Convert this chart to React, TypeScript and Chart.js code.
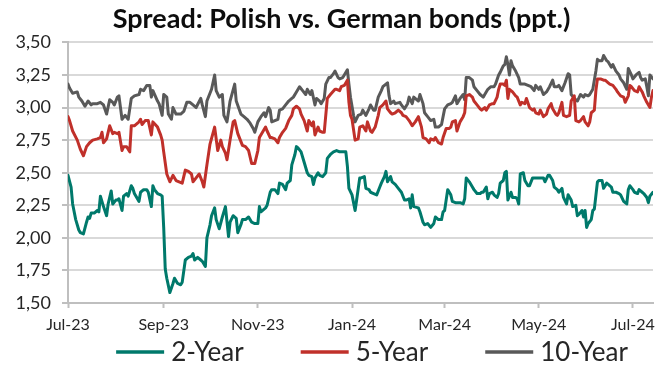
import React, { useEffect, useRef } from "react";
import { Chart, registerables } from "chart.js";

Chart.register(...registerables);

// ---- data (x = days since 2023-07-01) ----
const seriesLabels = ["2-Year", "5-Year", "10-Year"];
const xTickDays = [0, 62, 123, 184, 244, 305, 366];
const xTickLabels = ["Jul-23", "Sep-23", "Nov-23", "Jan-24", "Mar-24", "May-24", "Jul-24"];

const days2 = [0,2,3,5,7,8,10,12,13,14,15,17,19,20,21,23,25,26,28,29,31,32,33,35,36,38,39,41,42,43,46,47,49,51,52,54,55,56,58,60,61,62,63,64,66,68,69,71,73,74,76,78,80,81,82,84,86,87,89,90,92,93,95,96,98,100,102,104,105,107,109,110,112,113,115,117,119,121,123,124,125,128,129,131,132,134,136,137,139,141,142,144,145,147,148,149,151,153,155,156,158,159,160,162,163,165,167,168,170,172,174,176,178,180,181,182,184,186,187,189,190,192,193,195,196,198,200,202,203,205,206,207,209,210,212,214,216,218,219,221,222,223,224,227,228,230,231,233,235,237,238,240,242,243,244,246,248,249,251,252,254,256,257,258,260,262,263,265,267,268,269,271,272,273,275,276,278,279,280,282,283,284,285,287,288,290,291,292,293,295,296,298,299,301,303,304,306,308,309,311,312,314,315,317,318,320,321,323,324,326,327,329,330,331,333,334,335,336,337,339,340,341,343,344,346,347,349,350,352,353,355,357,358,360,362,363,364,366,367,369,370,372,373,375,376,377,379];
const vals2 = [2.48,2.39,2.26,2.14,2.06,2.04,2.03,2.12,2.16,2.15,2.19,2.19,2.21,2.20,2.32,2.24,2.17,2.26,2.36,2.26,2.29,2.29,2.30,2.21,2.32,2.34,2.32,2.40,2.38,2.34,2.28,2.35,2.37,2.37,2.35,2.24,2.40,2.37,2.34,2.33,2.32,2.08,1.76,1.69,1.58,1.65,1.69,1.65,1.64,1.66,1.83,1.85,1.86,1.88,1.83,1.85,1.83,1.82,1.78,2.00,2.10,2.17,2.23,2.14,2.07,2.16,2.24,2.01,2.12,2.17,2.15,2.04,2.10,2.14,2.14,2.16,2.12,2.11,2.11,2.24,2.20,2.23,2.25,2.35,2.37,2.37,2.34,2.42,2.41,2.37,2.42,2.44,2.56,2.64,2.70,2.69,2.66,2.58,2.50,2.48,2.47,2.41,2.46,2.50,2.48,2.47,2.50,2.61,2.64,2.66,2.67,2.66,2.66,2.66,2.55,2.38,2.33,2.21,2.29,2.46,2.46,2.47,2.38,2.37,2.35,2.34,2.33,2.39,2.42,2.47,2.51,2.43,2.47,2.43,2.41,2.38,2.35,2.29,2.29,2.30,2.23,2.33,2.24,2.23,2.20,2.12,2.10,2.11,2.08,2.11,2.16,2.14,2.14,2.20,2.21,2.37,2.33,2.28,2.27,2.27,2.27,2.26,2.30,2.46,2.43,2.39,2.37,2.34,2.34,2.35,2.35,2.39,2.30,2.34,2.35,2.33,2.31,2.34,2.42,2.44,2.50,2.51,2.29,2.35,2.31,2.31,2.30,2.26,2.49,2.50,2.44,2.40,2.40,2.46,2.46,2.46,2.46,2.46,2.43,2.48,2.48,2.44,2.39,2.37,2.35,2.38,2.31,2.26,2.33,2.29,2.24,2.25,2.17,2.18,2.21,2.16,2.21,2.08,2.11,2.14,2.21,2.22,2.43,2.44,2.44,2.38,2.42,2.41,2.39,2.35,2.35,2.34,2.33,2.28,2.26,2.37,2.40,2.37,2.35,2.34,2.37,2.35,2.34,2.31,2.27,2.32,2.35];

const days5 = [0,1,3,6,8,10,12,14,16,19,21,22,23,25,27,29,30,32,33,35,36,38,40,41,43,46,47,48,50,52,54,55,58,60,61,62,64,66,68,70,72,74,76,78,80,81,83,85,87,88,90,92,95,97,99,100,102,103,105,107,108,110,113,115,117,119,121,123,124,126,128,129,131,132,134,136,137,139,141,143,145,146,148,150,151,153,155,156,158,159,160,162,163,165,166,168,170,173,174,176,177,179,181,182,183,184,186,188,189,191,193,194,196,197,199,201,202,204,206,207,209,210,212,214,216,217,219,221,223,225,227,229,230,232,234,235,237,238,240,242,243,245,247,248,249,251,252,254,256,257,258,260,262,263,265,267,268,270,271,273,275,276,278,279,280,282,283,284,285,286,288,290,291,293,294,296,297,299,301,302,303,305,306,308,310,311,313,314,316,317,318,320,321,323,325,326,328,329,331,332,334,335,337,338,339,341,342,343,345,347,348,350,351,353,355,356,358,360,361,363,364,365,367,369,370,372,373,375,377,378,379];
const vals5 = [2.93,2.90,2.82,2.75,2.68,2.63,2.70,2.73,2.75,2.76,2.77,2.81,2.73,2.76,2.86,2.80,2.81,2.80,2.81,2.67,2.70,2.70,2.66,2.86,2.86,2.89,2.91,2.87,2.90,2.90,2.79,2.89,2.85,2.79,2.75,2.66,2.49,2.43,2.48,2.44,2.43,2.42,2.52,2.51,2.49,2.43,2.46,2.49,2.43,2.39,2.56,2.72,2.85,2.67,2.75,2.70,2.65,2.60,2.75,2.89,2.90,2.80,2.71,2.70,2.67,2.57,2.57,2.67,2.77,2.81,2.85,2.82,2.77,2.77,2.76,2.73,2.77,2.81,2.84,2.90,2.94,2.99,3.01,2.99,2.95,2.90,2.82,2.90,2.86,2.89,2.79,2.85,2.82,2.81,2.81,3.07,3.10,3.14,3.14,3.13,3.16,3.17,3.21,3.04,2.94,2.91,2.75,2.76,2.85,2.86,2.82,2.89,2.82,2.81,2.85,2.94,3.00,3.02,3.05,2.99,2.96,2.95,2.96,2.98,2.96,2.94,2.93,2.90,2.86,2.89,2.93,2.85,2.77,2.76,2.73,2.76,2.75,2.77,2.73,2.72,2.77,2.84,2.84,2.85,2.89,2.90,2.82,2.89,2.93,2.96,3.09,3.10,3.08,3.05,3.02,2.99,2.98,3.00,2.98,3.02,3.03,3.03,3.08,3.14,3.18,3.18,3.17,3.21,3.07,3.14,3.12,3.09,3.08,3.02,3.04,3.03,3.07,3.00,2.98,2.99,2.96,2.95,2.98,2.93,2.95,2.99,3.03,2.99,2.95,2.94,2.96,3.04,2.94,2.93,2.94,3.05,3.09,2.90,2.89,2.90,2.93,2.89,2.86,2.89,2.96,2.98,3.13,3.22,3.22,3.21,3.21,3.19,3.18,3.17,3.14,3.12,3.09,3.08,3.04,3.09,3.17,3.16,3.13,3.12,3.16,3.12,3.09,3.04,3.00,3.08,3.13];

const days10 = [0,1,3,6,7,9,11,13,15,16,19,21,23,25,27,29,30,32,33,35,37,39,41,43,46,47,49,51,53,54,55,58,59,61,62,64,65,67,68,70,73,75,77,79,81,83,86,87,89,90,93,95,96,98,100,101,103,105,108,109,112,114,116,118,120,121,123,125,127,128,130,131,132,134,136,137,139,141,143,145,146,148,150,152,154,155,157,158,160,161,163,164,166,167,169,170,172,173,175,176,178,179,181,182,183,185,186,188,190,191,193,195,196,198,199,201,203,204,207,208,209,211,212,215,216,218,220,221,223,224,227,228,230,231,233,235,237,238,240,242,244,246,248,249,251,252,254,256,257,258,260,262,263,265,267,269,270,272,274,276,277,279,280,282,283,284,285,286,287,288,290,292,293,295,296,298,300,302,303,305,306,308,310,312,314,315,317,318,320,322,324,325,326,328,330,332,334,335,337,338,340,342,343,344,346,347,349,350,352,353,355,357,358,360,362,363,365,366,368,370,371,372,374,375,376,377,379];
const vals10 = [3.18,3.15,3.11,3.12,3.08,3.05,3.01,3.05,3.02,3.03,3.03,3.04,3.02,2.95,3.06,3.04,3.02,3.08,3.09,2.91,2.94,2.91,3.07,3.09,3.10,3.14,3.13,3.17,3.17,3.08,3.13,3.05,3.03,2.94,3.10,3.08,2.95,2.91,3.00,2.95,2.95,2.97,3.04,3.04,3.02,3.00,3.07,3.02,2.93,3.05,3.14,3.25,3.13,3.08,3.10,2.94,2.89,3.05,3.18,3.05,2.95,2.93,2.91,2.88,2.84,2.81,2.89,2.93,2.96,2.93,3.00,2.98,2.89,2.90,2.91,2.98,2.99,3.02,3.05,3.07,3.08,3.12,3.16,3.13,3.10,3.14,3.10,3.13,3.02,3.07,3.05,3.03,3.07,3.18,3.23,3.23,3.26,3.28,3.23,3.22,3.23,3.25,3.29,3.18,3.08,2.94,2.89,2.94,2.95,2.98,2.94,2.99,3.02,2.98,2.98,3.08,3.13,3.16,3.19,3.09,3.03,3.05,3.03,3.04,3.02,2.99,3.03,3.08,3.03,3.08,3.05,3.10,3.03,2.96,2.93,2.90,2.91,2.85,2.85,2.87,2.99,3.02,3.03,3.04,3.09,3.03,3.07,3.10,3.06,3.23,3.23,3.21,3.16,3.13,3.10,3.08,3.10,3.14,3.16,3.16,3.18,3.25,3.27,3.32,3.33,3.39,3.33,3.25,3.36,3.32,3.28,3.23,3.18,3.18,3.18,3.17,3.16,3.13,3.17,3.14,3.16,3.10,3.12,3.16,3.21,3.16,3.16,3.17,3.13,3.19,3.26,3.25,3.10,3.07,3.05,3.10,3.08,3.10,3.09,3.10,3.14,3.28,3.37,3.36,3.36,3.40,3.36,3.35,3.31,3.33,3.28,3.25,3.22,3.19,3.14,3.30,3.25,3.22,3.25,3.27,3.23,3.21,3.22,3.16,3.09,3.25,3.22];

const seriesDays = [days2, days5, days10];
const seriesVals = [vals2, vals5, vals10];
const seriesColors = ["#00796B", "#C0302A", "#595959"];

// ---- layout constants ----
const W = 672;
const H = 367;
const FONT = "Lato, 'Open Sans', sans-serif";
const LEGEND_CX = 372;
const LEGEND_Y = 352;
const TITLE_SHIFT = 15;

const shiftPlugin = {
  id: "shiftBlocks",
  afterLayout(chart: any) {
    const t = chart.titleBlock;
    if (t) {
      t.left += TITLE_SHIFT;
      t.right += TITLE_SHIFT;
    }
  },
};

const legendPlugin = {
  id: "lineLegend",
  afterDraw(chart: any) {
    const ctx = chart.ctx;
    ctx.save();
    ctx.font = `26px ${FONT}`;
    const lineLen = 48;
    const gapText = 7;
    const gapItem = 57;
    const items = chart.data.datasets.map((ds: any) => ({
      label: ds.label,
      color: ds.borderColor,
      w: ctx.measureText(ds.label).width,
    }));
    const total =
      items.reduce((s: number, it: any) => s + lineLen + gapText + it.w, 0) +
      gapItem * (items.length - 1);
    let x = LEGEND_CX - total / 2;
    items.forEach((it: any) => {
      ctx.strokeStyle = it.color;
      ctx.lineWidth = 3.5;
      ctx.beginPath();
      ctx.moveTo(x, LEGEND_Y);
      ctx.lineTo(x + lineLen, LEGEND_Y);
      ctx.stroke();
      ctx.fillStyle = "#262626";
      ctx.textBaseline = "middle";
      ctx.textAlign = "left";
      ctx.fillText(it.label, x + lineLen + gapText, LEGEND_Y + 1);
      x += lineLen + gapText + it.w + gapItem;
    });
    ctx.restore();
  },
};

export default function App() {
  const ref = useRef<HTMLCanvasElement | null>(null);

  useEffect(() => {
    if (!ref.current) return;
    const datasets = seriesLabels.map((label, i) => ({
      label,
      data: seriesDays[i].map((d, j) => ({ x: d, y: seriesVals[i][j] })),
      borderColor: seriesColors[i],
      backgroundColor: seriesColors[i],
      borderWidth: 3,
      pointRadius: 0,
      tension: 0,
      borderJoinStyle: "round" as const,
      borderCapStyle: "round" as const,
    }));
    const chart = new Chart(ref.current, {
      type: "line",
      data: { datasets },
      options: {
        animation: false,
        responsive: false,
        devicePixelRatio: 1,
        layout: { padding: { left: 0, right: 19, top: 0, bottom: 32 } },
        plugins: {
          legend: { display: false },
          tooltip: { enabled: false },
          title: {
            display: true,
            text: "Spread: Polish vs. German bonds (ppt.)",
            color: "#0d0d0d",
            font: { family: FONT, size: 27, weight: "bold" },
            padding: { top: 3, bottom: 7 },
          },
        },
        scales: {
          x: {
            type: "linear",
            min: 0,
            max: 379,
            afterBuildTicks: (scale: any) => {
              scale.ticks = xTickDays.map((v) => ({ value: v }));
            },
            afterFit: (scale: any) => {
              scale.height = 32;
            },
            ticks: {
              autoSkip: false,
              maxRotation: 0,
              padding: 7,
              color: "#262626",
              font: { family: FONT, size: 16 },
              callback: (_v: any, i: number) => xTickLabels[i],
            },
            grid: {
              drawOnChartArea: false,
              drawTicks: true,
              tickLength: 5,
              tickColor: "#bfbfbf",
              tickWidth: 2,
            },
            border: { display: true, color: "#bfbfbf", width: 2 },
          },
          y: {
            min: 1.5,
            max: 3.5,
            afterFit: (scale: any) => {
              scale.width = 68;
            },
            ticks: {
              stepSize: 0.25,
              padding: 11,
              color: "#262626",
              font: { family: FONT, size: 18 },
              callback: (v: any) => Number(v).toFixed(2).replace(".", ","),
            },
            grid: {
              color: "#d9d9d9",
              lineWidth: 2,
              drawTicks: true,
              tickLength: 6,
              tickColor: "#bfbfbf",
              tickWidth: 2,
            },
            border: { display: true, color: "#bfbfbf", width: 2 },
          },
        },
      },
      plugins: [shiftPlugin, legendPlugin],
    });
    return () => chart.destroy();
  }, []);

  return (
    <div style={{ position: "absolute", left: 0, top: 0, width: W, height: H, background: "#fff" }}>
      <canvas ref={ref} width={W} height={H} style={{ width: W, height: H, display: "block" }} />
    </div>
  );
}
